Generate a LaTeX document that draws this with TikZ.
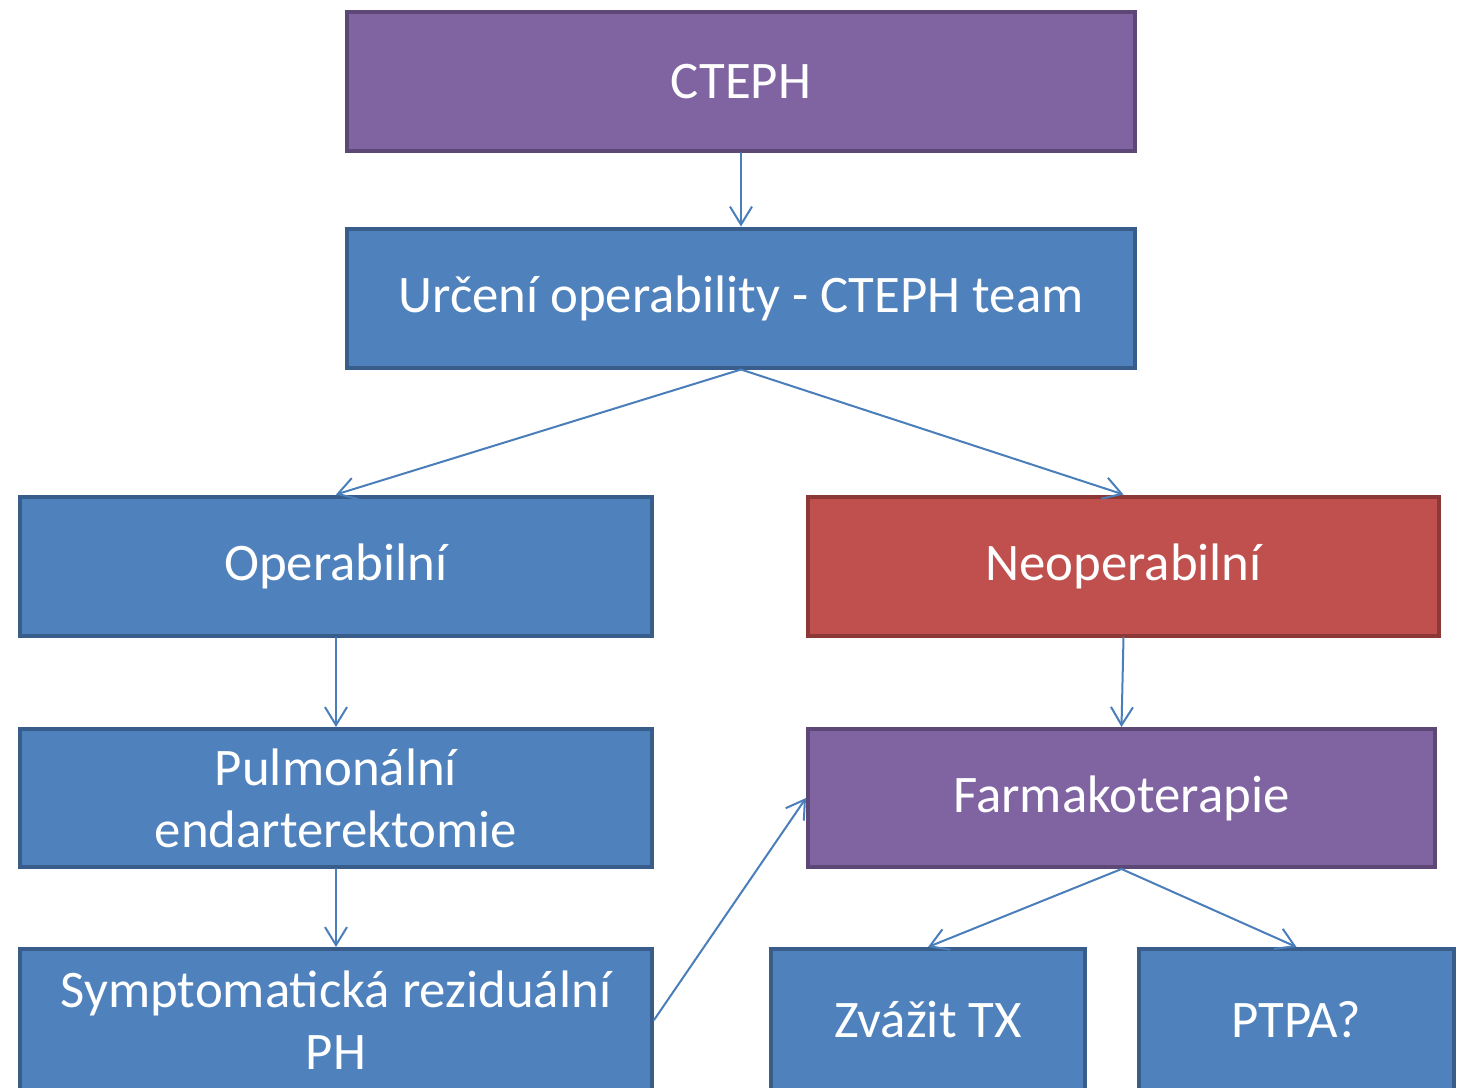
\documentclass[tikz,border=0pt]{standalone}
\usepackage{fontspec}
\setmainfont{Carlito}
\usetikzlibrary{arrows.meta}

\definecolor{purplefill}{HTML}{8064A2}
\definecolor{purpleline}{HTML}{5C4776}
\definecolor{bluefill}{HTML}{4F81BD}
\definecolor{blueline}{HTML}{385D8A}
\definecolor{redfill}{HTML}{C0504D}
\definecolor{redline}{HTML}{8C3836}
\definecolor{arrowblue}{HTML}{4A7EBB}

\begin{document}
\begin{tikzpicture}[x=0.5pt,y=-0.5pt,line cap=round,
    box/.style={draw=blueline,fill=bluefill,line width=2pt,text=white,
      align=center,font=\fontsize{26.4pt}{31pt}\selectfont,inner sep=0pt},
    purplebox/.style={box,draw=purpleline,fill=purplefill},
    redbox/.style={box,draw=redline,fill=redfill},
    link/.style={arrowblue,line width=1pt,-{Straight Barb[length=9pt,width=11pt]}}]
    \clip (0,0) rectangle (1458,1088);
    \fill[white] (0,0) rectangle (1458,1088);
    \node[purplebox,minimum width=394pt,minimum height=69.5pt] (cteph) at (741,81.5) {CTEPH};
    \node[box,minimum width=394pt,minimum height=69.5pt] (urceni) at (741,298) {Určení operability - CTEPH team};
    \node[box,minimum width=316pt,minimum height=69.5pt] (oper) at (336,566) {Operabilní};
    \node[redbox,minimum width=315.5pt,minimum height=69.5pt] (neoper) at (1123.5,566) {Neoperabilní};
    \node[box,minimum width=316pt,minimum height=69pt] (pulmo) at (336,798) {Pulmonální\\endarterektomie};
    \node[purplebox,minimum width=313.5pt,minimum height=69pt] (farma) at (1121.5,798) {Farmakoterapie};
    \node[box,minimum width=316pt,minimum height=71pt] (sympt) at (336,1020) {Symptomatická reziduální\\PH};
    \node[box,minimum width=157pt,minimum height=71pt] (zvazit) at (928,1020) {Zvážit TX};
    \node[box,minimum width=157.5pt,minimum height=71pt] (ptpa) at (1296.5,1020) {PTPA?};
    \draw[link] (cteph.south) -- (urceni.north);
    \draw[link] (urceni.south) -- (oper.north);
    \draw[link] (urceni.south) -- (neoper.north);
    \draw[link] (oper.south) -- (pulmo.north);
    \draw[link] (neoper.south) -- (farma.north);
    \draw[link] (pulmo.south) -- (sympt.north);
    \draw[link] (sympt.east) -- (farma.west);
    \draw[link] (farma.south) -- (zvazit.north);
    \draw[link] (farma.south) -- (ptpa.north);
\end{tikzpicture}
\end{document}
